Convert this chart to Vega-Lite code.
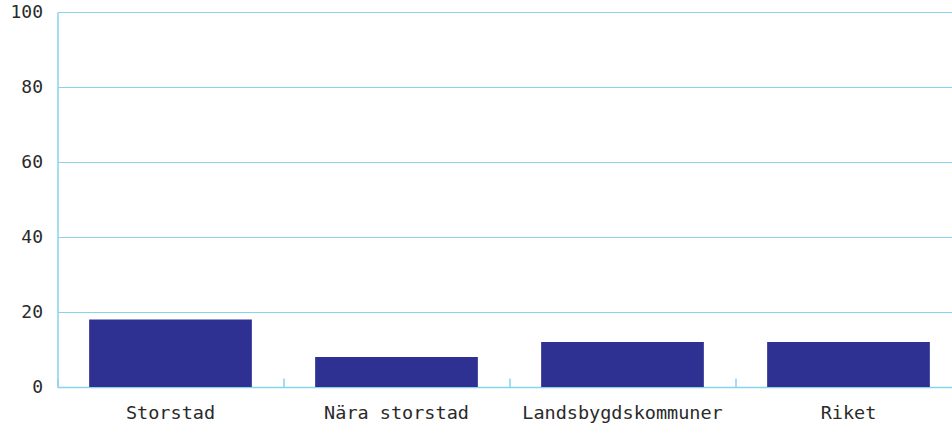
{
  "$schema": "https://vega.github.io/schema/vega-lite/v6.json",
  "autosize": "none",
  "width": 904,
  "height": 375,
  "padding": {"left": 57.5, "top": 12, "right": 0, "bottom": 38},
  "background": "white",
  "config": {
    "view": {"stroke": null},
    "font": "DejaVu Sans Mono",
    "axis": {
      "labelFont": "DejaVu Sans Mono",
      "labelFontSize": 18,
      "labelColor": "#2a2a2a",
      "domainColor": "#8ad2f0",
      "gridColor": "#8ad2f0",
      "tickColor": "#8ad2f0",
      "title": null
    }
  },
  "data": {
    "values": [
      {"kategori": "Storstad", "varde": 18},
      {"kategori": "Nära storstad", "varde": 8},
      {"kategori": "Landsbygdskommuner", "varde": 12},
      {"kategori": "Riket", "varde": 12}
    ]
  },
  "encoding": {
    "y": {
      "field": "varde",
      "type": "quantitative",
      "scale": {"domain": [0, 100], "nice": false},
      "axis": {
        "values": [0, 20, 40, 60, 80, 100],
        "ticks": false,
        "labelPadding": 15,
        "grid": true,
        "domainWidth": 1.5
      }
    }
  },
  "layer": [
    {
      "mark": {"type": "bar", "opacity": 0},
      "encoding": {
        "x": {
          "field": "kategori",
          "type": "nominal",
          "sort": null,
          "scale": {"paddingInner": 0, "paddingOuter": 0},
          "axis": {
            "orient": "bottom",
            "offset": -9,
            "labels": false,
            "domain": false,
            "ticks": true,
            "tickSize": 9,
            "tickWidth": 1.5,
            "tickBand": "extent",
            "grid": false
          }
        }
      }
    },
    {
      "mark": {"type": "bar", "color": "#2e3192"},
      "encoding": {
        "x": {
          "field": "kategori",
          "type": "nominal",
          "sort": null,
          "scale": {"paddingInner": 0.28, "paddingOuter": 0.14},
          "axis": {
            "orient": "bottom",
            "labelAngle": 0,
            "labelFontSize": 18.5,
            "labelPadding": 16,
            "labelLimit": 400,
            "ticks": false,
            "grid": false,
            "domainWidth": 1.5
          }
        }
      }
    }
  ],
  "resolve": {"scale": {"x": "independent"}, "axis": {"x": "independent"}}
}
